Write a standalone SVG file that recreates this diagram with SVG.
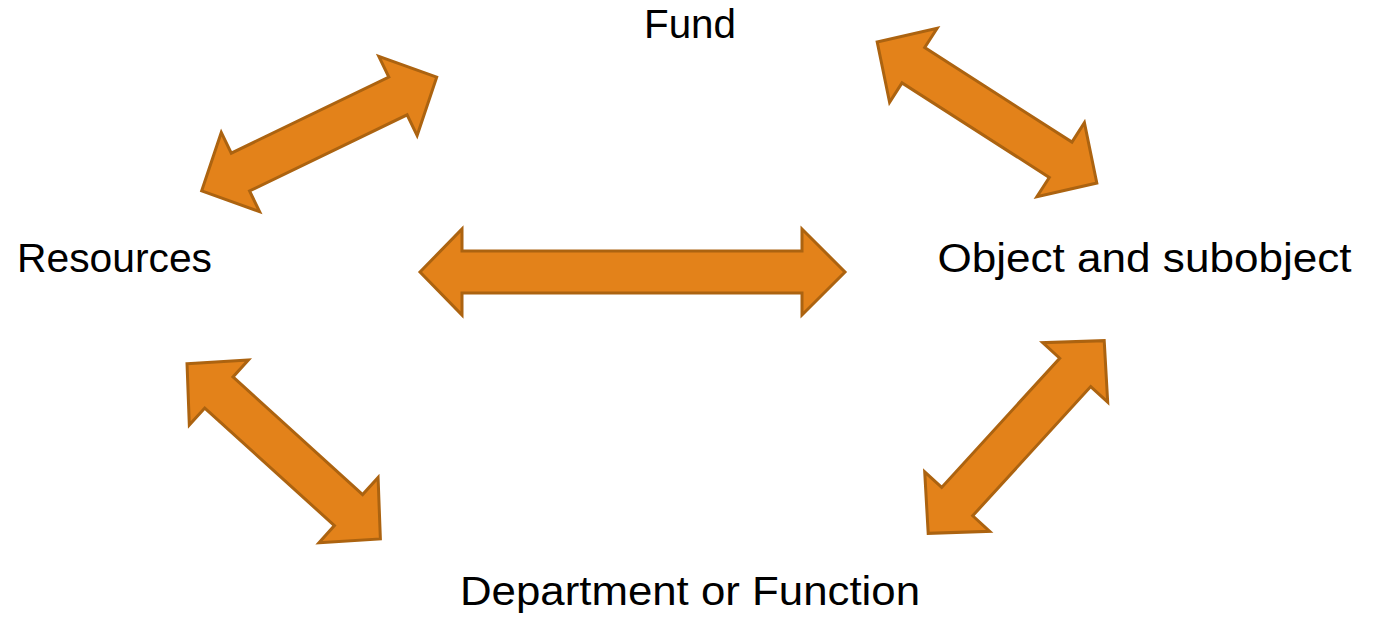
<svg xmlns="http://www.w3.org/2000/svg" xmlns:xlink="http://www.w3.org/1999/xlink" width="1383" height="625" viewBox="0 0 1383 625">
  <style>
    .lbl { font-family: "Liberation Sans", Arial, sans-serif; font-size: 41px; fill: #000; text-anchor: middle; }
    .arr { fill: #E3821A; stroke: #AC6310; stroke-width: 3; stroke-linejoin: miter; }
  </style>
  <defs>
    <path id="dbl" d="M-130.5,0 L-87.5,-44 L-87.5,-21 L87.5,-21 L87.5,-44 L130.5,0 L87.5,44 L87.5,21 L-87.5,21 L-87.5,44 Z"/>
  </defs>
  <rect width="1383" height="625" fill="#fff"/>
  <g id="connectors">
    <use xlink:href="#dbl" class="arr" transform="translate(319.2,134) rotate(-25.8)"/>
    <use xlink:href="#dbl" class="arr" transform="translate(987,112.5) rotate(32.7)"/>
    <use xlink:href="#dbl" class="arr" transform="translate(283.7,451.3) rotate(42.2)"/>
    <use xlink:href="#dbl" class="arr" transform="translate(1016.2,437) rotate(-47.6)"/>
    <path class="arr" d="M420,272 L462,229 L462,251 L802,251 L802,229 L845,272 L802,315 L802,293 L462,293 L462,315 Z"/>
  </g>
  <g id="fund"><text class="lbl" x="690" y="38" textLength="92" lengthAdjust="spacingAndGlyphs">Fund</text></g>
  <g id="resources"><text class="lbl" x="114.5" y="272" textLength="195" lengthAdjust="spacingAndGlyphs">Resources</text></g>
  <g id="object"><text class="lbl" x="1144.5" y="272" textLength="414" lengthAdjust="spacingAndGlyphs">Object and subobject</text></g>
  <g id="department"><text class="lbl" x="690" y="605" textLength="460" lengthAdjust="spacingAndGlyphs">Department or Function</text></g>
</svg>
